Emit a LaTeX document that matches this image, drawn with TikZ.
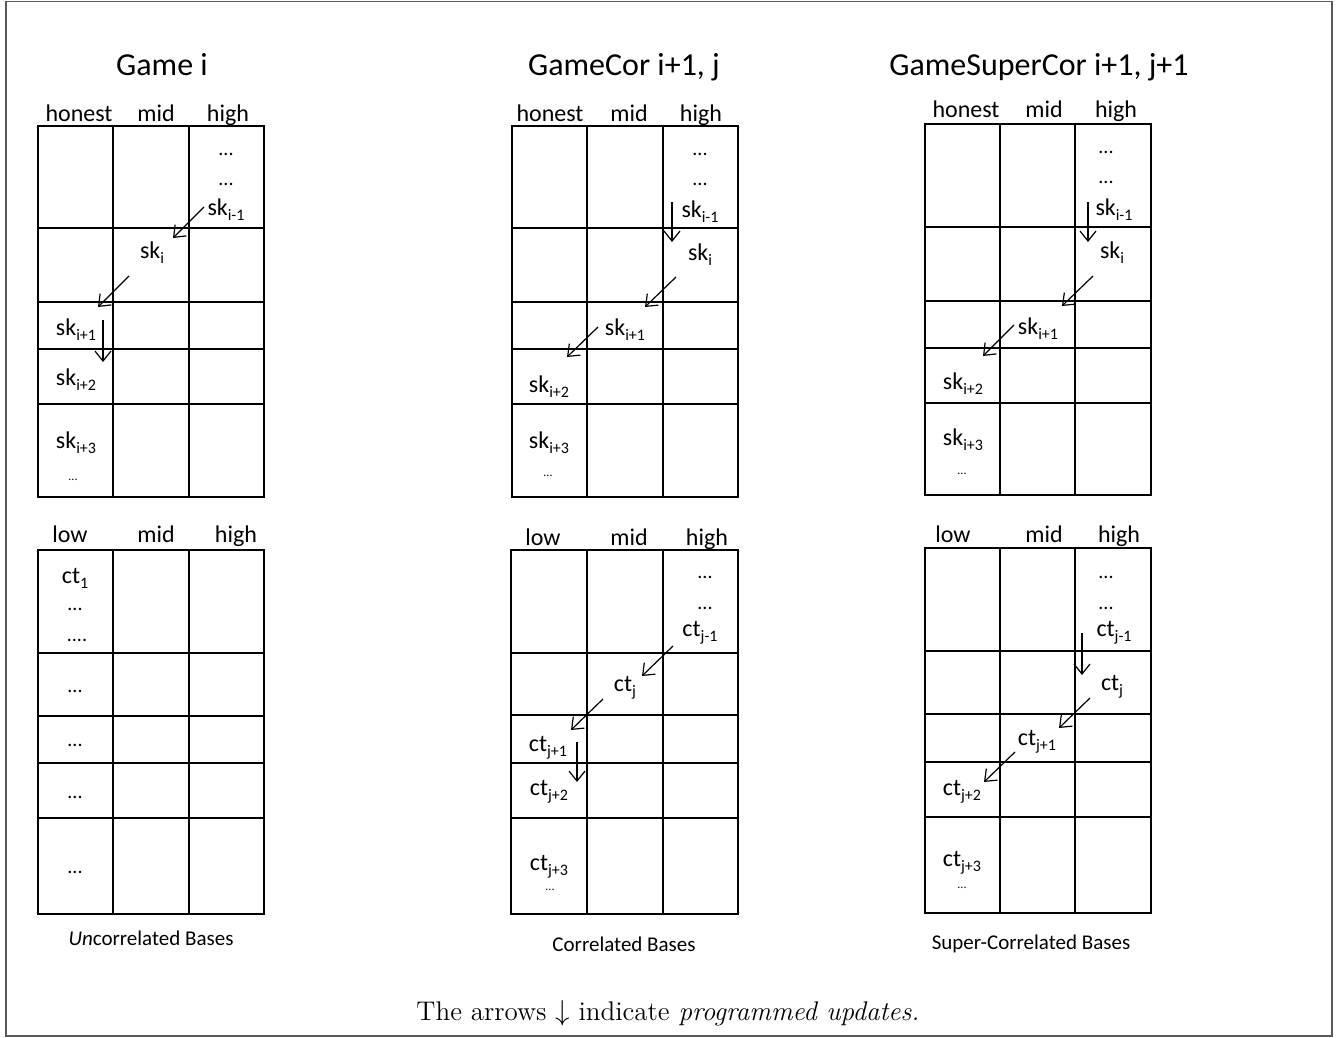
\documentclass[tikz,border=0pt]{standalone}
\usepackage{fontspec}
\usepackage{tikz}
\usetikzlibrary{positioning, arrows.meta}
\newfontfamily\cfont{Carlito}
\newcommand{\sbx}[1]{\raisebox{-0.45ex}{\fontsize{8}{9}\selectfont #1}}
% one 3-column base table: left, right, top, bottom, inner columns, inner rows
\newcommand{\basegrid}[6]{%
  \draw[gridline] (#1,#3) rectangle (#2,#4);
  \foreach \x in {#5} \draw[gridline] (\x,#3) -- (\x,#4);
  \foreach \y in {#6} \draw[gridline] (#1,\y) -- (#2,\y);
}

\begin{document}
\begin{tikzpicture}[
  x=0.5pt, y=-0.5pt,
  gridline/.style={line width=1pt, black},
  frame/.style={line width=0.9pt, draw=black!65},
  title/.style={font=\cfont\fontsize{16}{19}\selectfont, anchor=base, inner sep=0pt},
  head/.style={font=\cfont\fontsize{12}{14}\selectfont, anchor=base, inner sep=0pt},
  cell/.style={font=\cfont\fontsize{12}{14}\selectfont, inner sep=0pt},
  dots/.style={font=\cfont\fontsize{10}{12}\selectfont, inner sep=0pt},
  tinydots/.style={font=\cfont\fontsize{6}{7}\selectfont, inner sep=0pt},
  basecap/.style={font=\cfont\fontsize{10.5}{12}\selectfont, inner sep=0pt},
  upd/.style={-{Straight Barb[length=5pt, width=8pt]}, line width=0.6pt},
]
\useasboundingbox (0,0) rectangle (1339,1038);
\draw[frame] (6,1.5) rectangle (1332,1036);

% Titles
\node[title] (tA) at (162,76) {Game i};
\node[title] (tB) at (624,76) {GameCor i+1, j};
\node[title] (tC) at (1039,76) {GameSuperCor i+1, j+1};

% Game i -- keys
\basegrid{38}{264}{126}{497}{113,189}{228,302,349,404}
\node[head] (hA1) at (79,122) {honest};
\node[head] (hA2) at (156,122) {mid};
\node[head] (hA3) at (228,122) {high};
\node[dots] (dA1) at (226,154) {...};
\node[dots] (dA2) at (226,184) {...};
\node[cell] (skA0) at (226,210) {sk\sbx{i-1}};
\node[cell] (skA1) at (152,253) {sk\sbx{i}};
\node[cell] (skA2) at (76,330) {sk\sbx{i+1}};
\node[cell] (skA3) at (76,380) {sk\sbx{i+2}};
\node[cell] (skA4) at (76,443) {sk\sbx{i+3}};
\node[tinydots] (dA3) at (73,480) {...};
\coordinate (uA1) at (204,207); \coordinate (vA1) at (173,238);
\coordinate (uA2) at (129,276); \coordinate (vA2) at (98,307);
\coordinate (uA3) at (103,320); \coordinate (vA3) at (103,362);
\draw[upd] (uA1) -- (vA1);
\draw[upd] (uA2) -- (vA2);
\draw[upd] (uA3) -- (vA3);

% Game i -- ciphertexts
\basegrid{38}{264}{550}{914}{113,189}{653,716,763,818}
\node[head] (lA1) at (70,542) {low};
\node[head] (lA2) at (156,542) {mid};
\node[head] (lA3) at (236,542) {high};
\node[cell] (ctA0) at (75,578) {ct\sbx{1}};
\node[dots] (eA1) at (75,609) {...};
\node[dots] (eA2) at (77,640) {....};
\node[dots] (eA3) at (75,691) {...};
\node[dots] (eA4) at (75,745) {...};
\node[dots] (eA5) at (75,797) {...};
\node[dots] (eA6) at (75,872) {...};
\node[basecap] (cA) at (151,938) {\textit{Un}correlated Bases};

% GameCor -- keys
\basegrid{512}{738}{126}{497}{587,663}{228,302,349,404}
\node[head] (hB1) at (550,122) {honest};
\node[head] (hB2) at (629,122) {mid};
\node[head] (hB3) at (701,122) {high};
\node[dots] (dB1) at (700,154) {...};
\node[dots] (dB2) at (700,184) {...};
\node[cell] (skB0) at (700,212) {sk\sbx{i-1}};
\node[cell] (skB1) at (700,255) {sk\sbx{i}};
\node[cell] (skB2) at (625,330) {sk\sbx{i+1}};
\node[cell] (skB3) at (549,387) {sk\sbx{i+2}};
\node[cell] (skB4) at (549,443) {sk\sbx{i+3}};
\node[tinydots] (dB3) at (548,476) {...};
\coordinate (uB1) at (672,202); \coordinate (vB1) at (672,242);
\coordinate (uB2) at (676,277); \coordinate (vB2) at (645,307);
\coordinate (uB3) at (598,327); \coordinate (vB3) at (567,357);
\draw[upd] (uB1) -- (vB1);
\draw[upd] (uB2) -- (vB2);
\draw[upd] (uB3) -- (vB3);

% GameCor -- ciphertexts
\basegrid{511}{738}{550}{914}{587,663}{653,715,763,818}
\node[head] (lB1) at (543,545) {low};
\node[head] (lB2) at (629,545) {mid};
\node[head] (lB3) at (707,545) {high};
\node[dots] (eB1) at (705,577) {...};
\node[dots] (eB2) at (705,608) {...};
\node[cell] (ctB0) at (700,633) {ct\sbx{j-1}};
\node[cell] (ctB1) at (625,688) {ct\sbx{j}};
\node[cell] (ctB2) at (548,748) {ct\sbx{j+1}};
\node[cell] (ctB3) at (549,792) {ct\sbx{j+2}};
\node[cell] (ctB4) at (549,867) {ct\sbx{j+3}};
\node[tinydots] (eB3) at (550,890) {...};
\coordinate (uB4) at (673,646); \coordinate (vB4) at (642,676);
\coordinate (uB5) at (603,699); \coordinate (vB5) at (571,730);
\coordinate (uB6) at (577,742); \coordinate (vB6) at (577,782);
\draw[upd] (uB4) -- (vB4);
\draw[upd] (uB5) -- (vB5);
\draw[upd] (uB6) -- (vB6);
\node[basecap] (cB) at (624,944) {Correlated Bases};

% GameSuperCor -- keys
\basegrid{925}{1151}{124}{495}{1000,1075}{227,301,348,403}
\node[head] (hC1) at (966,118) {honest};
\node[head] (hC2) at (1044,118) {mid};
\node[head] (hC3) at (1116,118) {high};
\node[dots] (dC1) at (1106,152) {...};
\node[dots] (dC2) at (1106,182) {...};
\node[cell] (skC0) at (1114,210) {sk\sbx{i-1}};
\node[cell] (skC1) at (1112,253) {sk\sbx{i}};
\node[cell] (skC2) at (1038,329) {sk\sbx{i+1}};
\node[cell] (skC3) at (963,384) {sk\sbx{i+2}};
\node[cell] (skC4) at (963,440) {sk\sbx{i+3}};
\node[tinydots] (dC3) at (962,474) {...};
\coordinate (uC1) at (1088,202); \coordinate (vC1) at (1088,242);
\coordinate (uC2) at (1093,276); \coordinate (vC2) at (1062,306);
\coordinate (uC3) at (1014,325); \coordinate (vC3) at (983,356);
\draw[upd] (uC1) -- (vC1);
\draw[upd] (uC2) -- (vC2);
\draw[upd] (uC3) -- (vC3);

% GameSuperCor -- ciphertexts
\basegrid{925}{1151}{548}{913}{1000,1075}{651,714,762,817}
\node[head] (lC1) at (953,542) {low};
\node[head] (lC2) at (1044,542) {mid};
\node[head] (lC3) at (1119,542) {high};
\node[dots] (eC1) at (1106,577) {...};
\node[dots] (eC2) at (1106,608) {...};
\node[cell] (ctC0) at (1114,633) {ct\sbx{j-1}};
\node[cell] (ctC1) at (1112,687) {ct\sbx{j}};
\node[cell] (ctC2) at (1037,742) {ct\sbx{j+1}};
\node[cell] (ctC3) at (962,792) {ct\sbx{j+2}};
\node[cell] (ctC4) at (962,863) {ct\sbx{j+3}};
\node[tinydots] (eC3) at (962,888) {...};
\coordinate (uC4) at (1082,633); \coordinate (vC4) at (1082,675);
\coordinate (uC5) at (1090,698); \coordinate (vC5) at (1059,728);
\coordinate (uC6) at (1015,752); \coordinate (vC6) at (984,782);
\draw[upd] (uC4) -- (vC4);
\draw[upd] (uC5) -- (vC5);
\draw[upd] (uC6) -- (vC6);
\node[basecap] (cC) at (1031,944) {Super-Correlated Bases};

% Note
\node[font=\fontsize{13.5}{16}\selectfont, inner sep=0pt] (note) at (668,1013)
  {The arrows $\downarrow$ indicate \textit{programmed updates.}};

\end{tikzpicture}
\end{document}
